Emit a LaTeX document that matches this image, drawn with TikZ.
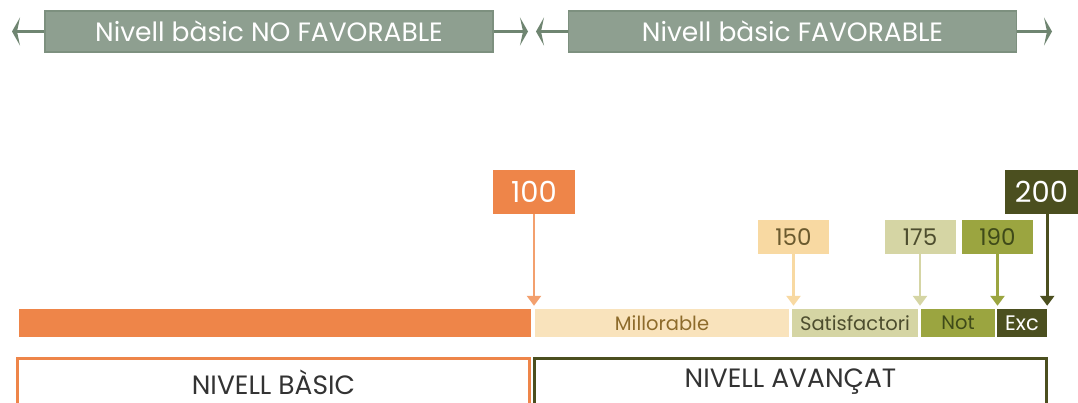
\documentclass[tikz,border=0pt]{standalone}
\usepackage{fontspec}
\setmainfont{Poppins}
\usetikzlibrary{arrows.meta}
\definecolor{grisverd}{HTML}{8E9F90}
\definecolor{grisvora}{HTML}{7D907F}
\definecolor{grisfletxa}{HTML}{6F8571}
\definecolor{taronja}{HTML}{EE8549}
\definecolor{taronjaclar}{HTML}{F3A06E}
\definecolor{crema}{HTML}{F9E3BC}
\definecolor{cremafosc}{HTML}{8D6B2B}
\definecolor{groc}{HTML}{F8D9A2}
\definecolor{grocfosc}{HTML}{6B5A2E}
\definecolor{sorra}{HTML}{D5D5A4}
\definecolor{sorrafosc}{HTML}{4D4D2E}
\definecolor{oliva}{HTML}{9BA540}
\definecolor{olivafosc}{HTML}{3F4A19}
\definecolor{fosc}{HTML}{4B4F1F}
\begin{document}
\begin{tikzpicture}[x=1pt,y=-1pt,
  banda/.style={draw=grisvora, line width=1.5pt, fill=grisverd, text=white,
    minimum width=448, minimum height=41, inner sep=0,
    font=\fontsize{26.5}{26.5}\selectfont},
  fletxa/.style={grisfletxa, line width=2.2pt,
    -{Stealth[length=8pt, width=28pt, inset=3pt]}},
  valor/.style={inner sep=0, minimum height=34, minimum width=71,
    font=\fontsize{23}{23}\selectfont},
  gran/.style={valor, minimum height=44, font=\fontsize{29}{29}\selectfont},
  baixa/.style={line width=2.6pt, -{Triangle[length=10pt, width=14pt]}, shorten >=3pt},
  tram/.style={inner sep=0, minimum height=28, font=\fontsize{19.5}{19.5}\selectfont},
  marc/.style={line width=3pt, fill=white},
  nivell/.style={inner sep=0, text=black!80, font=\fontsize{26.5}{26.5}\selectfont}]
\useasboundingbox (0,0) rectangle (1078,403);
\clip (0,0) rectangle (1078,403);
% franges superiors
\node[banda] (nf) at (269,31.5) {Nivell bàsic NO FAVORABLE};
\node[banda] (f) at (792.5,31.5) {Nivell bàsic FAVORABLE};
\coordinate (nfa) at (12,31.5);
\coordinate (nfb) at (528,31.5);
\coordinate (fa) at (536,31.5);
\coordinate (fb) at (1052,31.5);
\draw[fletxa] (nf.west) -- (nfa);
\draw[fletxa] (nf.east) -- (nfb);
\draw[fletxa] (f.west) -- (fa);
\draw[fletxa] (f.east) -- (fb);
% barra
\node[tram, fill=taronja, minimum width=512] (bas) at (275,323) {};
\node[tram, fill=crema, text=cremafosc, minimum width=254] (mill) at (662,323) {Millorable};
\node[tram, fill=sorra, text=sorrafosc, minimum width=126] (sat) at (855,323) {Satisfactori};
\node[tram, fill=oliva, text=olivafosc, minimum width=74] (not) at (958,323) {Not};
\node[tram, fill=fosc, text=white, minimum width=50, font=\fontsize{21}{21}\selectfont] (exc) at (1022,323) {Exc};
% valors
\node[gran, fill=taronja, text=white, minimum width=82] (v100) at (534,192) {100};
\node[valor, fill=groc, text=grocfosc] (v150) at (793.5,237) {150};
\node[valor, fill=sorra, text=sorrafosc] (v175) at (920,237) {175};
\node[valor, fill=oliva, text=olivafosc] (v190) at (997.5,237) {190};
\node[gran, fill=fosc, text=white, minimum width=73] (v200) at (1041.5,192) {200};
\begin{scope}[baixa]
  \draw[taronjaclar] (v100.south) -- (v100.south |- mill.north);
  \draw[groc] (v150.south) -- (v150.south |- mill.north);
  \draw[sorra] (v175.south) -- (v175.south |- sat.north);
  \draw[oliva] (v190.south) -- (v190.south |- not.north);
  \draw[fosc] (v200.south -| exc.north east) -- (exc.north east);
\end{scope}
% nivells
\draw[marc, draw=taronja] (17.5,358.5) rectangle (529.5,420);
\draw[marc, draw=fosc] (534.5,358.5) rectangle (1046.5,420);
\node[nivell] (nb) at (273.5,382) {NIVELL BÀSIC};
\node[nivell] (na) at (790.5,382) {NIVELL AVANÇAT};
\end{tikzpicture}
\end{document}
